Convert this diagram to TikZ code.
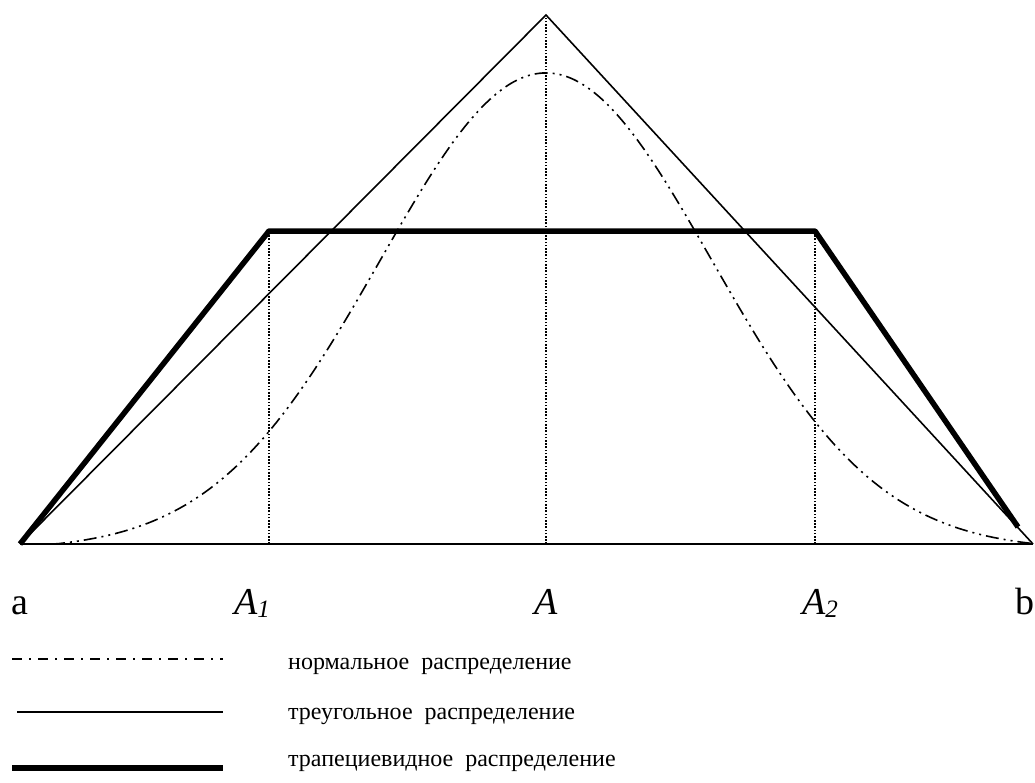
\documentclass[tikz,border=0pt]{standalone}
\usepackage{fontspec}
\setmainfont{Liberation Serif}
\begin{document}
\begin{tikzpicture}[x=1pt,y=-1pt,
		axisline/.style={line width=2pt},
		normline/.style={line width=1.6pt,dash pattern=on 13pt off 5pt on 2pt off 5pt on 2pt off 5pt},
		legnorm/.style={line width=1.6pt,dash pattern=on 10pt off 7pt on 2pt off 7pt},
		triline/.style={line width=1.6pt,line join=miter},
		trapline/.style={line width=5.5pt,line join=round},
		guide/.style={line width=1.4pt,dash pattern=on 1.6pt off 1.6pt},
		lbl/.style={anchor=base,inner sep=0pt,font=\fontsize{38}{42}\selectfont},
		leg/.style={anchor=base west,inner sep=0pt,font=\fontsize{24}{28}\selectfont}]
		\useasboundingbox (0,0) rectangle (1035,782);
		% points of the plot
		\coordinate (a) at (20,544);
		\coordinate (b) at (1033,544);
		\coordinate (top) at (546,15);
		\coordinate (T1) at (269,231);
		\coordinate (T2) at (815,231);
		\coordinate (Tend) at (1018,527);
		\coordinate (A1) at (269,544);
		\coordinate (A) at (546,544);
		\coordinate (A2) at (815,544);
		% verticals
		\draw [guide] (A1) -- (T1);
		\draw [guide] (A) -- (top);
		\draw [guide] (A2) -- (T2);
		% curves
		\draw [normline] plot[domain=20:1033,samples=160,smooth] (\x,{544-max(477*exp(-0.5*((\x-546)/166)^2)-6,0)});
		\draw [triline] (a) -- (top) -- (b);
		\draw [trapline] (a) -- (T1) -- (T2) -- (Tend);
		\draw [axisline] (a) -- (b);
		% labels
		\node [lbl] (la) at (20,614) {a};
		\node [lbl] (lA1) at (252,614) {\itshape A\raisebox{-0.2ex}{\fontsize{25}{25}\selectfont\itshape 1}};
		\node [lbl] (lA) at (546,614) {\itshape A};
		\node [lbl] (lA2) at (820,614) {\itshape A\raisebox{-0.2ex}{\fontsize{25}{25}\selectfont 2}};
		\node [lbl,anchor=base east] (lb) at (1035,614) {b};
		% legend
		\coordinate (n1) at (12,659);
		\coordinate (n2) at (223,659);
		\coordinate (t1) at (17,712);
		\coordinate (t2) at (223,712);
		\coordinate (p1) at (12,768);
		\coordinate (p2) at (223,768);
		\draw [legnorm] (n1) -- (n2);
		\draw [line width=1.6pt] (t1) -- (t2);
		\draw [line width=6pt] (p1) -- (p2);
		\node [leg] (lnorm) at (288,669) {нормальное\ \ распределение};
		\node [leg] (ltri) at (288,719) {треугольное\ \ распределение};
		\node [leg] (ltrap) at (288,766) {трапециевидное\ \ распределение};
		\end{tikzpicture}
\end{document}
